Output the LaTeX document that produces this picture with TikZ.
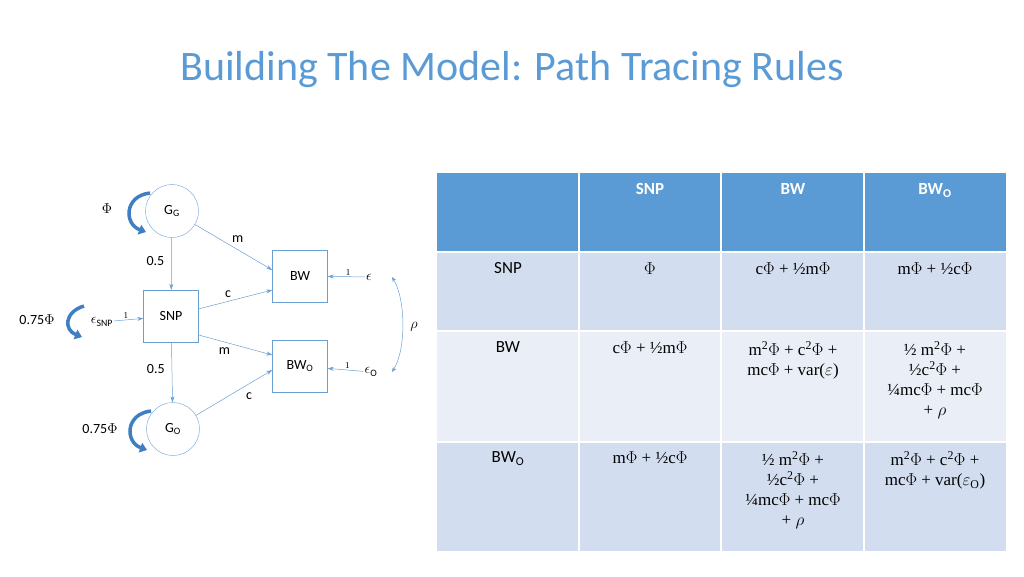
\documentclass[tikz,border=0pt]{standalone}
\usepackage{fontspec}
\setmainfont{Carlito}
\newfontfamily\ser{Liberation Serif}
\usetikzlibrary{arrows.meta}
\definecolor{hdr}{HTML}{5B9BD5}
\definecolor{rowa}{HTML}{D2DEEF}
\definecolor{rowb}{HTML}{EAEFF7}
\definecolor{ttl}{HTML}{5B9BD5}
\definecolor{ln}{HTML}{6A9FD4}
\definecolor{loop}{HTML}{3F7FC1}
\begin{document}
\begin{tikzpicture}[x=1pt,y=-1pt,
  lat/.style={draw=ln,circle,minimum size=53pt,inner sep=0pt,font=\fontsize{14}{16}\selectfont},
  obs/.style={draw=ln,rectangle,minimum width=55pt,minimum height=52pt,inner sep=0pt,font=\fontsize{14}{16}\selectfont},
  lbl/.style={font=\fontsize{14}{16}\selectfont,inner sep=1pt},
  path/.style={draw=ln,-{Stealth[length=6pt,width=4pt]},line width=0.5pt},
  selfl/.style={draw=loop,line width=3.5pt,-{Triangle[length=7pt,width=10pt]}},
  cell/.style={align=center,anchor=north,font=\ser\fontsize{17}{20}\selectfont},
  hcell/.style={anchor=north,text=white,font=\bfseries\fontsize{17}{20}\selectfont},
  rcell/.style={anchor=north,font=\fontsize{17}{20}\selectfont}]
\useasboundingbox (0,0) rectangle (1024,576);
\node[text=ttl,font=\fontsize{42}{48}\selectfont] (title) at (512,70) {Building The Model: Path Tracing Rules};
% diagram
\node[lat] (gg) at (172,211) {G\textsubscript{G}};
\node[obs] (snp) at (171,316) {SNP};
\node[lat] (go) at (173,429) {G\textsubscript{O}};
\node[obs] (bw) at (300,276) {BW};
\node[obs] (bwo) at (300,366) {BW\textsubscript{O}};
\node[lbl] (e) at (369,277) {$\epsilon$};
\node[lbl] (eo) at (371,372) {$\epsilon$\textsubscript{O}};
\node[lbl] (esnp) at (102,322) {$\epsilon$\textsubscript{SNP}};
\node[lbl] (phi) at (107,209) {$\Phi$};
\node[lbl] (p75a) at (37,320) {0.75$\Phi$};
\node[lbl] (p75b) at (100,429) {0.75$\Phi$};
\node[lbl] (rho) at (414,327) {$\rho$};
\draw[path] (gg) -- node[lbl,pos=0.45,left=6pt] {0.5} (snp);
\draw[path] (snp) -- node[lbl,pos=0.45,left=6pt] {0.5} (go);
\draw[path] (gg) -- node[lbl,pos=0.45,above right=1pt] {m} (bw.west |- 0,270);
\draw[path] (snp) -- node[lbl,pos=0.4,above=3pt] {c} (bw.west |- 0,290);
\draw[path] (snp.east |- 0,335) -- node[lbl,pos=0.35,below=4pt] {m} (bwo.west |- 0,355);
\draw[path] (go) -- node[lbl,pos=0.6,below right=3pt] {c} (bwo.west |- 0,370);
\draw[path] (e) -- node[above,pos=0.45,font=\ser\fontsize{9}{10}\selectfont,inner sep=1pt] {1} (bw);
\draw[path] (eo) -- node[above,pos=0.45,font=\ser\fontsize{9}{10}\selectfont,inner sep=1pt] {1} (bwo);
\draw[path] (esnp) -- node[above,pos=0.4,font=\ser\fontsize{9}{10}\selectfont,inner sep=1pt] {1} (snp);
\draw[draw=ln,line width=0.5pt,{Stealth[length=5pt,width=4pt]}-{Stealth[length=5pt,width=4pt]}] (392,277) .. controls (406,300) and (406,350) .. (392,372);
% self loops
\draw[selfl] (150,193) .. controls (124,196) and (124,224) .. (146,232);
\draw[selfl] (84,306) .. controls (64,312) and (64,330) .. (82,337);
\draw[selfl] (151,411) .. controls (125,414) and (125,442) .. (147,450);
% table
\fill[hdr] (437,173) rectangle (578,251);
\fill[hdr] (580,173) rectangle (720,251);
\fill[hdr] (722,173) rectangle (863,251);
\fill[hdr] (865,173) rectangle (1006,251);
\foreach \xa/\xb in {437/578,580/720,722/863,865/1006}{
  \fill[rowa] (\xa,253) rectangle (\xb,330);
  \fill[rowb] (\xa,332) rectangle (\xb,441);
  \fill[rowa] (\xa,443) rectangle (\xb,551);}
\node[hcell] (h1) at (650,180) {SNP};
\node[hcell] (h2) at (793,180) {BW};
\node[hcell] (h3) at (935,180) {BW\textsubscript{O}};
\node[rcell] (r1) at (508,259) {SNP};
\node[rcell] (r2) at (508,338) {BW};
\node[rcell] (r3) at (508,448) {BW\textsubscript{O}};
\node[cell] (c11) at (650,259) {$\Phi$};
\node[cell] (c12) at (793,259) {c$\Phi$ + ½m$\Phi$};
\node[cell] (c13) at (935,259) {m$\Phi$ + ½c$\Phi$};
\node[cell] (c21) at (650,338) {c$\Phi$ + ½m$\Phi$};
\node[cell] (c22) at (793,338) {m\textsuperscript{2}$\Phi$ + c\textsuperscript{2}$\Phi$ +\\ mc$\Phi$ + var($\varepsilon$)};
\node[cell] (c23) at (935,338) {½ m\textsuperscript{2}$\Phi$ +\\ ½c\textsuperscript{2}$\Phi$ +\\ ¼mc$\Phi$ + mc$\Phi$\\ + $\rho$};
\node[cell] (c31) at (650,448) {m$\Phi$ + ½c$\Phi$};
\node[cell] (c32) at (793,448) {½ m\textsuperscript{2}$\Phi$ +\\ ½c\textsuperscript{2}$\Phi$ +\\ ¼mc$\Phi$ + mc$\Phi$\\ + $\rho$};
\node[cell] (c33) at (935,448) {m\textsuperscript{2}$\Phi$ + c\textsuperscript{2}$\Phi$ +\\ mc$\Phi$ + var($\varepsilon$\textsubscript{O})};
\end{tikzpicture}
\end{document}
